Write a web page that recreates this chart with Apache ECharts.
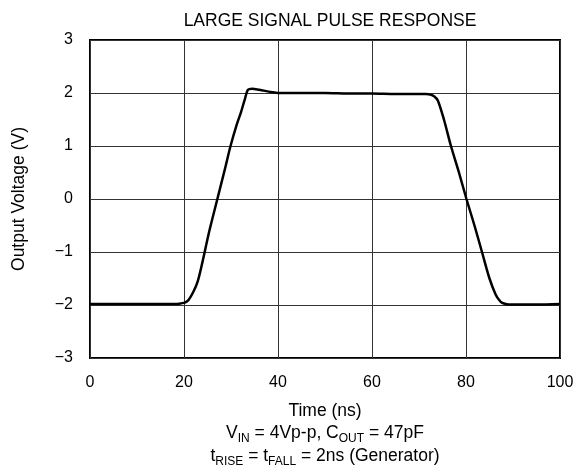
<!DOCTYPE html>
<html><head><meta charset="utf-8">
<script src="https://cdn.jsdelivr.net/npm/echarts@6/dist/echarts.min.js"></script>
<style>html,body{margin:0;padding:0;background:#fff}#c{width:588px;height:472px}</style>
</head><body><div id="c"></div>
<script>
const timeNs = [0,5,10,15,18,19.3,20.3,21,22,22.9,23.9,25.4,27.1,28.8,29.9,31.2,32.1,33,33.6,34.5,36,38.5,40,45,50,55,60,65,70,71.5,72.4,73.2,74,75.3,76.8,78.5,80.1,81.8,83.4,85,86.3,87.1,87.7,88.4,89,92,95,100];
const outputV = [-1.98,-1.98,-1.98,-1.98,-1.98,-1.97,-1.95,-1.9,-1.75,-1.56,-1.2,-0.6,0,0.6,1.0,1.4,1.63,1.9,2.06,2.08,2.06,2.02,2.0,2.0,2.0,1.99,1.99,1.98,1.98,1.98,1.97,1.94,1.86,1.5,1.0,0.5,0,-0.5,-1.0,-1.5,-1.8,-1.91,-1.96,-1.98,-1.99,-1.99,-1.99,-1.98];
const xTicks = [0,20,40,60,80,100];
const yTicks = [-3,-2,-1,0,1,2,3];

const F = 'Liberation Sans, Arial, sans-serif';
const chart = echarts.init(document.getElementById('c'), null, {renderer:'canvas'});
const subRich = {s:{fontFamily:F, fontSize:12, fill:'#000', padding:[11,0,0,0]}};
chart.setOption({
  animation:false,
  backgroundColor:'#fff',
  title:{text:'LARGE SIGNAL PULSE RESPONSE', left:325, top:7, textAlign:'center',
    textStyle:{fontFamily:F, fontSize:17.5, fontWeight:'normal', color:'#000'}},
  grid:{left:90, right:28, top:40, bottom:114, show:true, borderColor:'#000', borderWidth:2, containLabel:false},
  xAxis:{type:'value', min:0, max:100, interval:20,
    axisLine:{show:false}, axisTick:{show:false},
    splitLine:{show:true, lineStyle:{color:'#333', width:1}},
    axisLabel:{fontFamily:F, fontSize:16, color:'#000', margin:17,
      formatter:v=>xTicks.includes(v)?String(v):''},
    name:'Time (ns)', nameLocation:'middle', nameGap:44,
    nameTextStyle:{fontFamily:F, fontSize:17.5, color:'#000'}},
  yAxis:{type:'value', min:-3, max:3, interval:1,
    axisLine:{show:false}, axisTick:{show:false},
    splitLine:{show:true, lineStyle:{color:'#333', width:1}},
    axisLabel:{fontFamily:F, fontSize:16, color:'#000', margin:17,
      formatter:v=>yTicks.includes(v)?String(v).replace('-','\u2212'):''},
    name:'Output Voltage (V)', nameLocation:'middle', nameGap:62, nameRotate:90,
    nameTextStyle:{fontFamily:F, fontSize:17.5, color:'#000'}},
  series:[{type:'line', data:timeNs.map((t,i)=>[t,outputV[i]]), showSymbol:false, smooth:0.3,
    lineStyle:{color:'#000', width:2.5}}],
  graphic:[
    {type:'text', x:325, y:433, style:{
      text:'V{s|IN} = 4Vp-p, C{s|OUT} = 47pF', fontFamily:F, fontSize:17.5, fill:'#000',
      align:'center', verticalAlign:'middle', rich:subRich}},
    {type:'text', x:325, y:456, style:{
      text:'t{s|RISE} = t{s|FALL} = 2ns (Generator)', fontFamily:F, fontSize:17.5, fill:'#000',
      align:'center', verticalAlign:'middle', rich:subRich}}
  ]
});
</script></body></html>
